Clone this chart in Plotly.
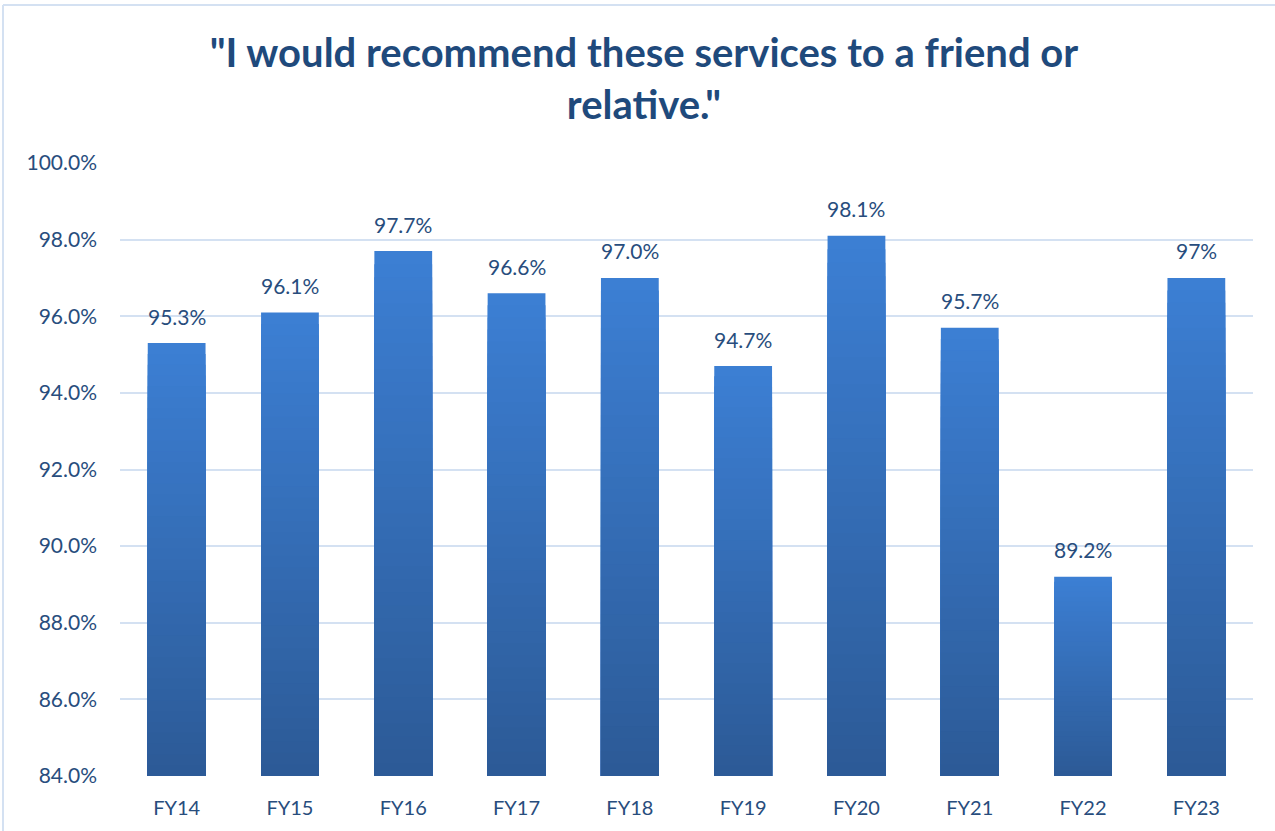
import plotly.graph_objects as go

categories = ["FY14", "FY15", "FY16", "FY17", "FY18", "FY19", "FY20", "FY21", "FY22", "FY23"]
values = [95.3, 96.1, 97.7, 96.6, 97.0, 94.7, 98.1, 95.7, 89.2, 97.0]
labels = ["95.3%", "96.1%", "97.7%", "96.6%", "97.0%", "94.7%", "98.1%", "95.7%", "89.2%", "97%"]
y_ticks = [84, 86, 88, 90, 92, 94, 96, 98, 100]
y_tick_text = ["84.0%", "86.0%", "88.0%", "90.0%", "92.0%", "94.0%", "96.0%", "98.0%", "100.0%"]

AXIS_MIN = 84
TEXT_COLOR = "#284d7d"
TITLE_COLOR = "#1f4a7c"
FONT = "Lato"

top_rgb = (60, 127, 212)
bot_rgb = (44, 90, 150)

fig = go.Figure()
N = 40
# Draw the full bar in the top colour, then progressively shorter, darker bars
# on top of it from the axis base, giving a vertical gradient without seams.
for k in range(N, 0, -1):
    f = (k - 0.5) / N
    c = tuple(int(round(bot_rgb[i] + (top_rgb[i] - bot_rgb[i]) * f)) for i in range(3))
    heights = [(v - AXIS_MIN) * k / N for v in values]
    fig.add_trace(go.Bar(
        x=categories, y=heights, base=AXIS_MIN,
        marker=dict(color="rgb(%d,%d,%d)" % c, line=dict(width=0)),
        width=0.51, hoverinfo="skip", showlegend=False,
    ))

for cat, v, lab in zip(categories, values, labels):
    fig.add_annotation(x=cat, y=v, text=lab, showarrow=False, yanchor="middle",
                       yshift=27, font=dict(family=FONT, size=21, color=TEXT_COLOR))

L, R, T, B = 120, 22, 163, 55
W, H = 1275, 831
pw, ph = W - L - R, H - T - B
fig.add_shape(type="line", xref="paper", yref="paper",
              x0=(3 - L) / pw, x1=(W - L) / pw, y0=(H - 5 - B) / ph, y1=(H - 5 - B) / ph,
              line=dict(color="#d4e1f2", width=2))
fig.add_shape(type="line", xref="paper", yref="paper",
              x0=(3 - L) / pw, x1=(3 - L) / pw, y0=(0 - B) / ph, y1=(H - 5 - B) / ph,
              line=dict(color="#d4e1f2", width=2))

fig.update_layout(
    width=W, height=H,
    margin=dict(l=L, r=R, t=T, b=B),
    barmode="overlay",
    paper_bgcolor="white", plot_bgcolor="white",
    title=dict(text='"I would recommend these services to a friend or<br>relative."',
               x=644 / W, xanchor="center", y=1 - 67 / H, yanchor="middle",
               font=dict(family=FONT, size=40, color=TITLE_COLOR, weight="bold")),
    xaxis=dict(showgrid=False, showline=False, ticks="",
               tickfont=dict(family=FONT, size=20, color=TEXT_COLOR), ticklabelstandoff=18),
    yaxis=dict(range=[AXIS_MIN, 100], tickvals=y_ticks, ticktext=y_tick_text,
               showgrid=True, gridcolor="#d4e1f2", gridwidth=2, zeroline=False, showline=False,
               tickfont=dict(family=FONT, size=21, color=TEXT_COLOR), ticklabelstandoff=22),
)

fig.write_html("out.html")
